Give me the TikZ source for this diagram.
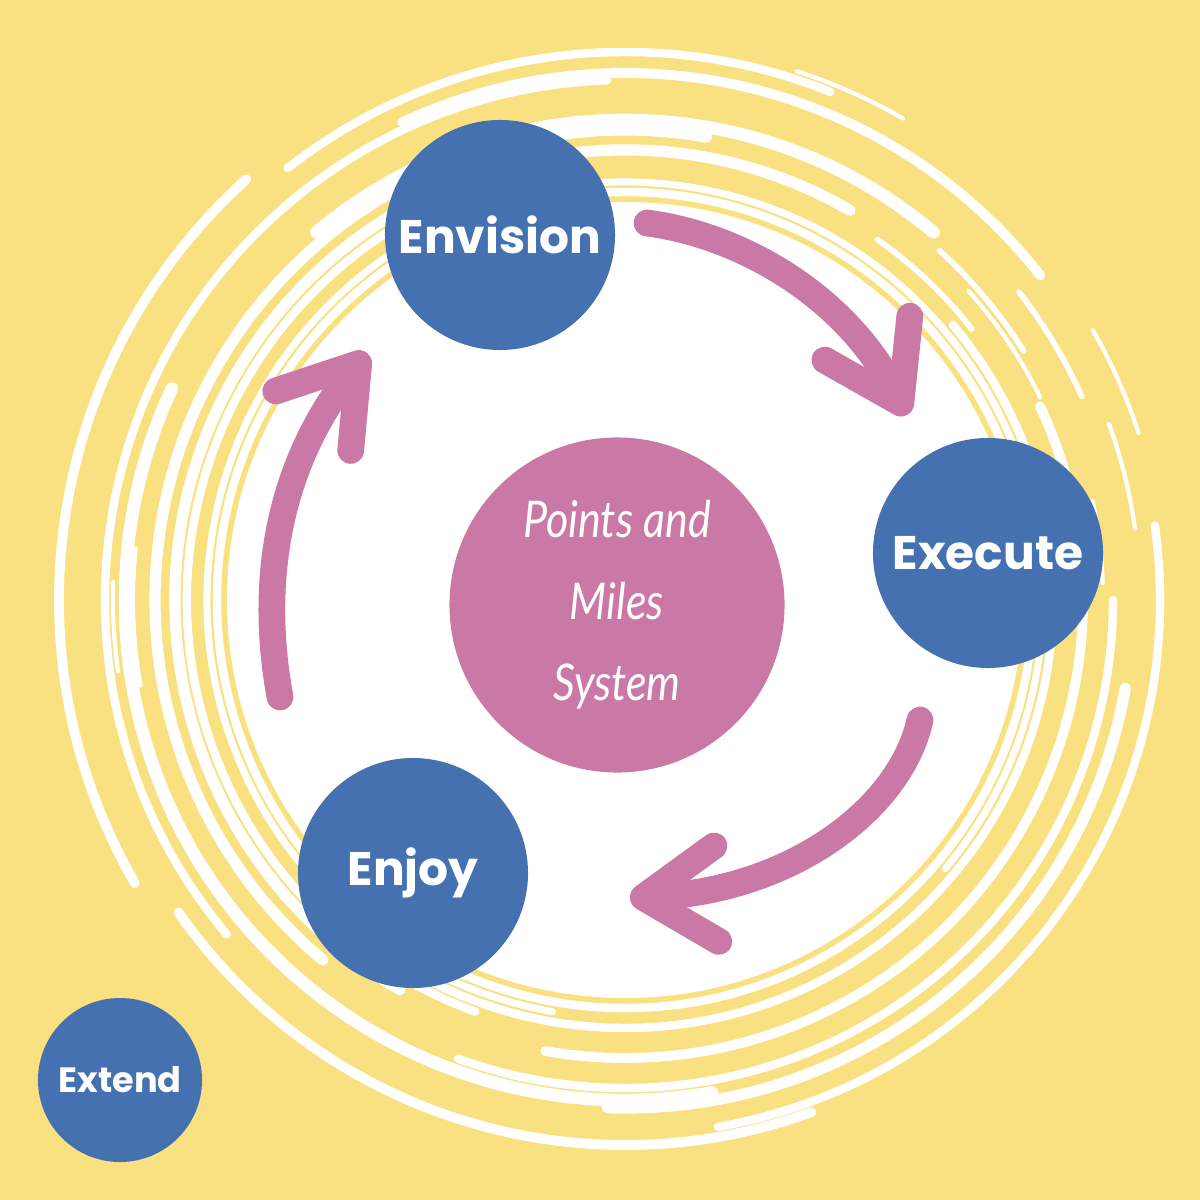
\documentclass[tikz,border=0pt]{standalone}
\usepackage{fontspec}
\setmainfont{Poppins}
\newfontfamily\handfont{Lato}[FakeStretch=0.85]
\usetikzlibrary{arrows.meta,calc}
\definecolor{yel}{HTML}{F9E080}
\definecolor{blu}{HTML}{4571B0}
\definecolor{pnk}{HTML}{CA78A5}

\begin{document}
\begin{tikzpicture} [
   x=0.025cm, y=-0.025cm,
   n/.style={circle, fill=blu, text=white, inner sep=0pt, minimum size=5.75cm,
             font=\bfseries\fontsize{33.5}{38}\selectfont},
   hub/.style={circle, fill=pnk, text=white, inner sep=0pt, minimum size=8.375cm,
             align=center, font=\handfont\itshape\fontsize{36}{58}\selectfont},
   flow/.style={draw=pnk, line width=19pt, line cap=round,
             -{Straight Barb[length=52pt, width=68pt, round]}},
   ring/.style={white, line cap=round}
]
   \useasboundingbox (0,0) rectangle (1200,1200);
   \fill[yel] (0,0) rectangle (1200,1200);

   % swirl round the middle
   \foreach \r/\a/\b/\w in {408/0/360/6, 418/100/400/5, 428/-40/120/6, 438/110/250/6,
         450/120/300/8, 458/-25/100/7, 470/130/280/8, 480/230/310/9, 488/0/110/6,
         500/80/205/9, 508/10/92/8, 520/140/268/6, 527/245/322/7, 535/-8/80/6,
         545/70/145/7, 548/232/292/6, 566/150/228/7,
         440/305/322/4, 470/312/328/4, 500/322/336/4, 515/340/352/3, 492/170/186/3,
         512/172/182/3, 478/-12/-2/3, 540/-30/-18/3, 556/288/300/3, 462/318/334/3}
      \draw[ring, line width=\w pt] (625,600) ++(\a:\r) arc[start angle=\a, end angle=\b, radius=\r];
   \fill[white] (625,600) circle (398);

   \node (hub) [hub] at (617,605) {Points and\\Miles\\System};
   \node (env) [n] at (500,235) {Envision};
   \node (exe) [n] at (988,553) {Execute};
   \node (enj) [n] at (413,873) {Enjoy};
   \node (ext) [n, minimum size=4.1cm, font=\bfseries\fontsize{25}{30}\selectfont] at (120,1080) {Extend};

   \draw[flow] ($(env)+(147,-12)$) .. controls (740,235) and (845,295) .. ($(exe)+(-81,-138)$);
   \draw[flow] ($(exe)+(-68,167)$) .. controls (900,810) and (790,890) .. ($(enj)+(217,25)$);
   \draw[flow] ($(enj)+(-133,-176)$) .. controls (255,560) and (290,450) .. ($(env)+(-133,118)$);
\end{tikzpicture}
\end{document}
